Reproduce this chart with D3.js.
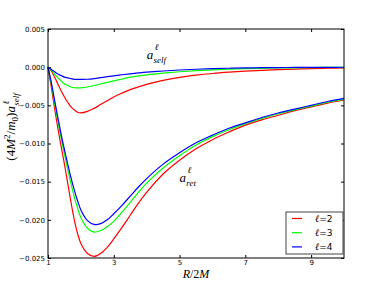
<!DOCTYPE html>
<html>
<head>
<meta charset="utf-8">
<script src="https://cdn.jsdelivr.net/npm/d3@7/dist/d3.min.js"></script>
<style>
  body { margin: 0; background: #fff; }
  .tick text { font-family: "DejaVu Sans", sans-serif; font-size: 7px; fill: #000; }
  .math { font-family: "Liberation Serif", serif; font-style: italic; }
</style>
</head>
<body>
<svg id="chart"></svg>
<script>
var svgWidth = 382;
var svgHeight = 288;

var plotLeft = 48, plotRight = 344, plotTop = 29, plotBottom = 258;

// R/2M sample points
var radius = [1, 1.1, 1.2, 1.3, 1.4, 1.5, 1.6, 1.7, 1.8, 1.9, 2.0, 2.2, 2.4, 2.6, 2.8, 3.0,
  3.25, 3.5, 3.75, 4, 4.5, 5, 5.5, 6, 6.5, 7, 7.5, 8, 8.5, 9, 9.5, 10];

// a_self curves
var selfL2 = [0, -0.0005, -0.0013, -0.0022, -0.0031, -0.0039, -0.0046, -0.0052, -0.0056, -0.0059,
  -0.0060, -0.0058, -0.0054, -0.0049, -0.0044, -0.0039, -0.0034, -0.00295, -0.00258, -0.00226,
  -0.00172, -0.00133, -0.00105, -0.00083, -0.00066, -0.00052, -0.00041, -0.00032, -0.00025, -0.00019,
  -0.00014, -0.0001];
var selfL3 = [0, -0.0004, -0.0009, -0.0014, -0.0018, -0.0022, -0.0024, -0.0026, -0.0027, -0.0027,
  -0.0027, -0.0026, -0.0024, -0.0022, -0.0020, -0.0018, -0.00155, -0.0013, -0.00115, -0.0010,
  -0.00078, -0.0006, -0.00046, -0.00035, -0.00027, -0.0002, -0.00015, -0.00011, -0.00008, -0.00005,
  -0.00003, -0.00002];
var selfL4 = [0, -0.0003, -0.0006, -0.0009, -0.0011, -0.0013, -0.0014, -0.0015, -0.0016, -0.0016,
  -0.0016, -0.00158, -0.0015, -0.00138, -0.00125, -0.00113, -0.00099, -0.00087, -0.00076, -0.00066,
  -0.0005, -0.00037, -0.00027, -0.0002, -0.00014, -0.0001, -0.00007, -0.00005, -0.00004, -0.00003,
  -0.00002, -0.00001];

// a_ret curves
var retL2 = [0, -0.0026, -0.0054, -0.0080, -0.0104, -0.0127, -0.0152, -0.0177, -0.0200, -0.0218,
  -0.0231, -0.0244, -0.0248, -0.0244, -0.0236, -0.0225, -0.0210, -0.0194, -0.0178, -0.0164,
  -0.0140, -0.0122, -0.0107, -0.0095, -0.0085, -0.0076, -0.0069, -0.0063, -0.0057, -0.0052,
  -0.0047, -0.0043];
var retL3 = [0, -0.0022, -0.0047, -0.0071, -0.0093, -0.0114, -0.0134, -0.0153, -0.0170, -0.0185,
  -0.0197, -0.0211, -0.0216, -0.0214, -0.0209, -0.0202, -0.0190, -0.0177, -0.0164, -0.0152,
  -0.0132, -0.0116, -0.0102, -0.0091, -0.0082, -0.0074, -0.0067, -0.0061, -0.0056, -0.0051,
  -0.0046, -0.0042];
var retL4 = [0, -0.0020, -0.0043, -0.0066, -0.0088, -0.0108, -0.0127, -0.0145, -0.0161, -0.0175,
  -0.0187, -0.0201, -0.0206, -0.0205, -0.0200, -0.0192, -0.0181, -0.0169, -0.0157, -0.0146,
  -0.0127, -0.0112, -0.0099, -0.0089, -0.0080, -0.0073, -0.0066, -0.0060, -0.0055, -0.0050,
  -0.0045, -0.0041];

var xTicks = [1, 3, 5, 7, 9];
var yTicks = [0.005, 0, -0.005, -0.010, -0.015, -0.020, -0.025];
var legendLabels = ['2', '3', '4'];
var colors = ['#ff0000', '#00ff00', '#0000ff'];

var xScale = d3.scaleLinear().domain([1, 10]).range([plotLeft, plotRight]);
var yScale = d3.scaleLinear().domain([-0.025, 0.005]).range([plotBottom, plotTop]);

var svg = d3.select('#chart').attr('width', svgWidth).attr('height', svgHeight);

var fmt = function(d) { return d3.format('.3f')(d).replace('-', '\u2212'); };

// axes (ticks point inward)
svg.append('g').attr('transform', 'translate(0,' + plotBottom + ')')
  .call(d3.axisBottom(xScale).tickValues(xTicks).tickSizeInner(-3).tickSizeOuter(0).tickPadding(2))
  .call(g => g.select('.domain').remove());
svg.append('g').attr('transform', 'translate(0,' + plotTop + ')')
  .call(d3.axisTop(xScale).tickValues(xTicks).tickSizeInner(-3).tickSizeOuter(0).tickFormat(''))
  .call(g => g.select('.domain').remove());
svg.append('g').attr('transform', 'translate(' + plotLeft + ',0)')
  .call(d3.axisLeft(yScale).tickValues(yTicks).tickSizeInner(-3).tickSizeOuter(0).tickPadding(3).tickFormat(fmt))
  .call(g => g.select('.domain').remove());
svg.append('g').attr('transform', 'translate(' + plotRight + ',0)')
  .call(d3.axisRight(yScale).tickValues(yTicks).tickSizeInner(-3).tickSizeOuter(0).tickFormat(''))
  .call(g => g.select('.domain').remove());

svg.selectAll('.tick line').attr('stroke', '#000');

// curves
var line = d3.line()
  .x((d, i) => xScale(radius[i]))
  .y(d => yScale(d))
  .curve(d3.curveCatmullRom.alpha(0.5));

var curves = [retL2, retL3, retL4, selfL2, selfL3, selfL4];
var curveColors = [colors[0], colors[1], colors[2], colors[0], colors[1], colors[2]];

svg.append('g').selectAll('path')
  .data(curves)
  .enter()
  .append('path')
  .attr('d', d => line(d))
  .attr('fill', 'none')
  .attr('stroke', (d, i) => curveColors[i])
  .attr('stroke-width', 1.2);

// frame
svg.append('rect')
  .attr('x', plotLeft).attr('y', plotTop)
  .attr('width', plotRight - plotLeft).attr('height', plotBottom - plotTop)
  .attr('fill', 'none').attr('stroke', '#000').attr('stroke-width', 1);

// annotations
function aLabel(x, y, sub) {
  var t = svg.append('text').attr('class', 'math').attr('x', x).attr('y', y).attr('font-size', 13);
  t.append('tspan').text('a');
  t.append('tspan').attr('font-size', 9).attr('dy', -9).attr('dx', 1.5).text('\u2113');
  t.append('tspan').attr('font-size', 9).attr('dy', 13).attr('dx', -5).text(sub);
}
aLabel(xScale(4.0), yScale(0.0011), 'self');
aLabel(xScale(5.0), yScale(-0.0151), 'ret');

// x label
var xl = svg.append('text').attr('x', 196).attr('y', 278).attr('text-anchor', 'middle')
  .attr('font-size', 12).attr('class', 'math');
xl.append('tspan').text('R');
xl.append('tspan').attr('font-style', 'normal').text('/2');
xl.append('tspan').text('M');

// y label
var yl = svg.append('text').attr('transform', 'translate(15,127) rotate(-90)')
  .attr('text-anchor', 'middle').attr('font-size', 13).attr('class', 'math');
yl.append('tspan').attr('font-style', 'normal').text('(4');
yl.append('tspan').text('M');
yl.append('tspan').attr('font-style', 'normal').attr('font-size', 9).attr('dy', -5).text('2');
yl.append('tspan').attr('font-style', 'normal').attr('dy', 5).text('/');
yl.append('tspan').text('m');
yl.append('tspan').attr('font-style', 'normal').attr('font-size', 9).attr('dy', 3).text('0');
yl.append('tspan').attr('font-style', 'normal').attr('dy', -3).text(')');
yl.append('tspan').text('a');
yl.append('tspan').attr('font-size', 9).attr('dy', -6.5).attr('dx', 1.5).text('\u2113');
yl.append('tspan').attr('font-size', 9).attr('dy', 10.5).attr('dx', -5).text('self');

// legend
var legend = svg.append('g').attr('transform', 'translate(286,212)');
legend.append('rect').attr('width', 57).attr('height', 42)
  .attr('fill', '#fff').attr('stroke', '#444').attr('stroke-width', 1);
var items = legend.selectAll('.item').data(legendLabels).enter().append('g')
  .attr('transform', (d, i) => 'translate(0,' + (6.5 + i * 14.2) + ')');
items.append('line').attr('x1', 6).attr('x2', 16).attr('y1', 0).attr('y2', 0)
  .attr('stroke', (d, i) => colors[i]).attr('stroke-width', 1.2);
var lt = items.append('text').attr('x', 29).attr('y', 3.5).attr('font-size', 10);
lt.append('tspan').attr('class', 'math').text('\u2113');
lt.append('tspan').attr('font-family', 'DejaVu Sans').attr('font-size', 9).text(d => '=' + d);
</script>
</body>
</html>
